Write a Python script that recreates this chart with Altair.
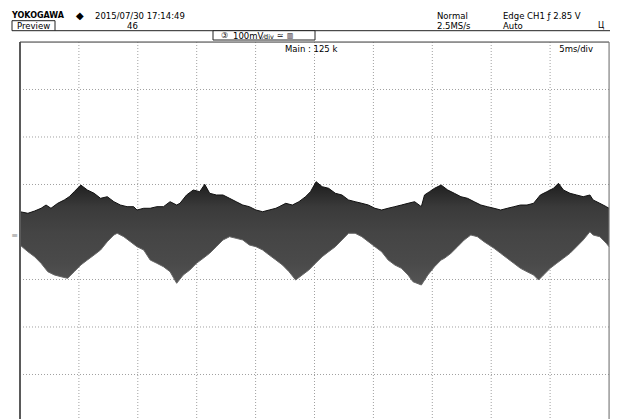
import altair as alt
import pandas as pd

# ---------------- data ----------------
# upper envelope of the noisy trace: time (ms) / level (mV)
t_hi = [0.0, 0.67, 1.24, 1.79, 2.21, 2.63, 3.20, 3.76, 4.18, 4.60, 5.16, 5.72, 6.29, 6.84, 7.41,
        7.97, 8.52, 9.09, 9.65, 9.93, 10.50, 11.05, 11.62, 12.18, 12.74, 13.30, 13.58, 14.14,
        14.71, 15.26, 15.68, 16.10, 16.67, 17.23, 17.79, 18.35, 18.91, 19.47, 20.03, 20.60,
        21.15, 21.72, 22.00, 22.56, 23.12, 23.68, 24.24, 24.66, 25.14, 25.65, 26.20, 26.77,
        27.33, 27.89, 28.45, 29.02, 29.57, 30.13, 30.70, 31.25, 31.82, 32.38, 32.94, 33.50,
        34.07, 34.34, 34.76, 35.19, 35.75, 36.31, 36.87, 37.43, 37.99, 38.55, 39.12, 39.67,
        40.24, 40.80, 41.36, 41.92, 42.48, 43.04, 43.60, 44.17, 44.72, 45.29, 45.71, 46.13,
        46.69, 47.25, 47.81, 48.38, 48.65, 49.22, 49.77, 50.0]
v_hi = [42.7, 39.4, 44.2, 49.9, 56.8, 49.9, 60.4, 67.4, 74.3, 84.8, 98.9, 88.4, 81.5, 70.9, 74.3,
        63.8, 56.8, 53.3, 53.3, 46.3, 49.9, 49.9, 53.3, 53.3, 63.8, 56.8, 60.4, 77.9,
        88.4, 84.8, 100.4, 81.5, 77.9, 77.9, 70.9, 63.8, 56.8, 53.3, 46.3, 42.7,
        46.3, 49.9, 53.3, 60.4, 56.8, 63.8, 74.3, 84.8, 105.9, 95.4, 92.0, 81.5,
        77.9, 67.4, 63.8, 60.4, 56.8, 49.9, 46.3, 49.9, 53.3, 56.8, 60.4, 63.8,
        53.3, 77.9, 84.8, 92.0, 98.9, 88.4, 81.5, 74.3, 70.9, 63.8, 56.8, 53.3,
        49.9, 46.3, 49.9, 53.3, 56.8, 56.8, 60.4, 77.9, 84.8, 92.0, 102.5, 88.4,
        81.5, 77.9, 74.3, 77.9, 67.4, 60.4, 53.3, 49.9]

# lower envelope of the noisy trace: time (ms) / level (mV)
t_lo = [0.0, 0.67, 1.24, 1.79, 2.36, 2.92, 3.48, 4.04, 4.60, 5.16, 5.72, 6.29, 6.84, 7.41, 7.97,
        8.25, 8.81, 9.37, 9.93, 10.50, 11.05, 11.62, 12.18, 12.74, 13.30, 13.86, 14.42, 14.98,
        15.55, 16.10, 16.67, 17.23, 17.79, 18.35, 18.91, 19.47, 20.03, 20.60, 21.15, 21.72,
        22.28, 22.84, 23.40, 23.96, 24.52, 25.08, 25.65, 26.20, 26.77, 27.33, 27.89, 28.45,
        29.02, 29.57, 30.13, 30.70, 31.25, 31.82, 32.38, 32.94, 33.36, 34.07, 34.62, 35.19,
        35.75, 36.03, 36.59, 37.15, 37.71, 38.27, 38.83, 39.39, 40.24, 40.80, 41.36, 41.92,
        42.48, 43.04, 43.60, 44.02, 44.44, 45.01, 45.56, 46.13, 46.69, 47.25, 47.81, 48.38,
        48.65, 49.22, 49.77, 50.0]
v_lo = [-27.4, -41.5, -52.0, -65.9, -83.6, -90.5, -94.1, -97.5, -83.6, -69.5, -58.9, -48.4, -37.9,
        -20.4, -6.3, -2.7, -9.9, -20.4, -30.9, -37.9, -58.9, -65.9, -73.1, -83.6, -108.0, -90.5,
        -80.0, -65.9, -55.4, -44.8, -30.9, -16.8, -9.9, -13.3, -16.8, -27.4, -30.9, -37.9, -48.4,
        -58.9, -69.5, -83.6, -101.1, -90.5, -80.0, -65.9, -52.0, -41.5, -30.9, -16.8, -2.7, -2.7,
        -9.9, -20.4, -30.9, -41.5, -58.9, -69.5, -76.4, -90.5, -104.6, -111.6, -90.5, -73.1,
        -58.9, -55.4, -44.8, -30.9, -16.8, -6.3, -9.9, -20.4, -34.3, -44.8, -55.4, -65.9,
        -76.4, -83.6, -90.5, -101.1, -90.5, -76.4, -65.9, -55.4, -44.8, -30.9, -16.8, 0.6,
        -6.3, -9.9, -23.8, -30.9]

time_grid = [5, 10, 15, 20, 25, 30, 35, 40, 45]          # ms, 5 ms/div
volt_grid = [-300, -200, -100, 0, 100, 200, 300]         # mV, 100 mV/div

# ---------------- chart ----------------
W, H = 589, 377
xs = alt.Scale(domain=[0, 50], nice=False, zero=False)
ys = alt.Scale(domain=[-393.7, 400], nice=False, zero=False)

hi = pd.DataFrame({"t": t_hi, "v": v_hi})
lo = pd.DataFrame({"t": t_lo, "v": v_lo})
one = pd.DataFrame({"k": [0]})
FONT = "DejaVu Sans"


def label(text, x, y, size=8.5, align="left", weight="normal", color="#000000", font=FONT):
    return alt.Chart(one).mark_text(
        text=text, align=align, baseline="middle", fontSize=size,
        fontWeight=weight, color=color, font=font
    ).encode(x=alt.value(x), y=alt.value(y))


def seg(x, x2, y, y2, color="#000000", width=1.0):
    return alt.Chart(one).mark_rule(color=color, strokeWidth=width).encode(
        x=alt.value(x), x2=alt.value(x2), y=alt.value(y), y2=alt.value(y2))


def box(x, x2, y, y2, stroke="#222222"):
    return alt.Chart(one).mark_rect(fill="#ffffff", stroke=stroke, strokeWidth=1).encode(
        x=alt.value(x), x2=alt.value(x2), y=alt.value(y), y2=alt.value(y2))


grid_style = dict(color="#a0a0a0", strokeWidth=1, strokeDash=[1, 2])
vgrid = alt.Chart(pd.DataFrame({"t": time_grid})).mark_rule(**grid_style).encode(
    x=alt.X("t:Q", scale=xs, axis=None), y=alt.value(0), y2=alt.value(H))
hgrid = alt.Chart(pd.DataFrame({"v": volt_grid})).mark_rule(**grid_style).encode(
    y=alt.Y("v:Q", scale=ys, axis=None), x=alt.value(0), x2=alt.value(W))

grad_up = alt.Gradient(gradient="linear", x1=0, x2=0, y1=0, y2=1,
                       stops=[alt.GradientStop(color="#1c1c1c", offset=0),
                              alt.GradientStop(color="#3a3a3a", offset=0.5),
                              alt.GradientStop(color="#444444", offset=1)])
grad_lo = alt.Gradient(gradient="linear", x1=0, x2=0, y1=0, y2=1,
                       stops=[alt.GradientStop(color="#444444", offset=0),
                              alt.GradientStop(color="#4a4a4a", offset=0.6),
                              alt.GradientStop(color="#555555", offset=1)])

wave_up = alt.Chart(hi).mark_area(color=grad_up, interpolate="linear").encode(
    x=alt.X("t:Q", scale=xs, axis=None), y=alt.Y("v:Q", scale=ys, axis=None),
    y2=alt.Y2Datum(0))
wave_lo = alt.Chart(lo).mark_area(color=grad_lo, interpolate="linear").encode(
    x=alt.X("t:Q", scale=xs, axis=None), y=alt.Y("v:Q", scale=ys, axis=None),
    y2=alt.Y2Datum(3))
edge_up = alt.Chart(hi).mark_line(color="#111111", strokeWidth=1).encode(
    x=alt.X("t:Q", scale=xs, axis=None), y=alt.Y("v:Q", scale=ys, axis=None))
edge_lo = alt.Chart(lo).mark_line(color="#666666", strokeWidth=1).encode(
    x=alt.X("t:Q", scale=xs, axis=None), y=alt.Y("v:Q", scale=ys, axis=None))

layers = [
    vgrid, hgrid,
    wave_up, wave_lo, edge_up, edge_lo,
    # frame
    seg(0, 0, 0, H + 5, color="#5a5a5a", width=2),
    seg(0, W, 0, 0, color="#444444", width=1),
    seg(W, W, 0, H + 5, color="#777777", width=1),
    # header
    label("YOKOGAWA", -8, -26.5, size=8, weight="bold"),
    label("\u25c6", 56, -26.5, size=10),
    label("2015/07/30 17:14:49", 75, -26.5),
    box(-8, 35, -21.3, -11.3),
    label("Preview", -3, -16.3),
    label("46", 112.5, -16.3, align="center"),
    seg(35, W + 1, -11.3, -11.3, color="#222222", width=1),
    box(193, 295, -11.3, -2),
    label("\u2462", 201, -6.5, size=8),
    label("100mV", 213, -6.5),
    label("\u2044div", 243, -5.5, size=6.5),
    label("\u2243", 260, -6.5, size=8, align="center"),
    label("\u25a5", 270, -6.5, size=7, align="center"),
    label("Normal", 417, -26.5),
    label("2.5MS/s", 417, -16.5),
    label("Edge CH1 \u0192 2.85 V", 483, -26.5),
    label("Auto", 483, -16.5),
    label("\u0426", 581, -16.5, size=8, align="center"),
    # inside the screen
    label("Main : 125 k", 265, 7),
    label("5ms/div", 573, 7, align="right"),
    label("\u2261", -5.5, 194, size=8, align="center", color="#888888"),
]

chart = alt.layer(*layers).properties(
    width=W, height=H,
    padding={"left": 12, "top": 34, "right": 1, "bottom": 0},
    autosize=alt.AutoSizeParams(type="none"),
).configure_view(stroke=None).configure(background="#ffffff")

chart.save("out.html", embed_options={"renderer": "svg", "actions": False})
